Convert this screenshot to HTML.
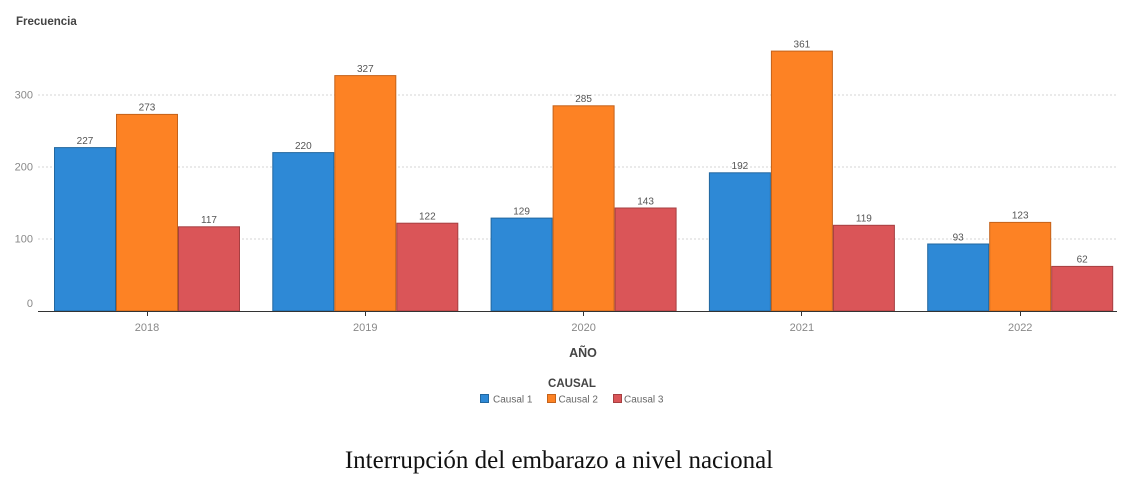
<!DOCTYPE html>
<html>
<head>
<meta charset="utf-8">
<style>
  html, body { margin: 0; padding: 0; background: #ffffff; }
  body { width: 1130px; height: 481px; overflow: hidden; }
  svg { display: block; }
  .sans { font-family: "Liberation Sans", "DejaVu Sans", sans-serif; }
</style>
</head>
<body>
<svg width="1130" height="481" viewBox="0 0 1130 481" xmlns="http://www.w3.org/2000/svg">
  <rect x="0" y="0" width="1130" height="481" fill="#ffffff"/>

  <!-- Y axis title -->
  <text class="sans" x="16" y="25" font-size="11.5" font-weight="bold" fill="#444">Frecuencia</text>

  <!-- Gridlines -->
  <g stroke="#d4d4d4" stroke-width="1" stroke-dasharray="2,2">
    <line x1="38" y1="95" x2="1116" y2="95"/>
    <line x1="38" y1="167" x2="1116" y2="167"/>
    <line x1="38" y1="239" x2="1116" y2="239"/>
  </g>

  <!-- Y labels -->
  <g class="sans" font-size="11" fill="#888" text-anchor="end">
    <text x="33" y="98.5">300</text>
    <text x="33" y="170.5">200</text>
    <text x="33" y="242.5">100</text>
    <text x="33" y="307">0</text>
  </g>

  <!-- Bars -->
  <g stroke-width="1">
    <!-- 2018 -->
    <rect x="54.5" y="147.6" width="61" height="163.4" fill="#2e89d6" stroke="#22679f"/>
    <rect x="116.5" y="114.4" width="61" height="196.6" fill="#fd8224" stroke="#c4621a"/>
    <rect x="178.5" y="226.8" width="61" height="84.2" fill="#da5558" stroke="#a63f41"/>
    <!-- 2019 -->
    <rect x="272.8" y="152.6" width="61" height="158.4" fill="#2e89d6" stroke="#22679f"/>
    <rect x="334.8" y="75.6" width="61" height="235.4" fill="#fd8224" stroke="#c4621a"/>
    <rect x="396.8" y="223.2" width="61" height="87.8" fill="#da5558" stroke="#a63f41"/>
    <!-- 2020 -->
    <rect x="491.1" y="218.1" width="61" height="92.9" fill="#2e89d6" stroke="#22679f"/>
    <rect x="553.1" y="105.8" width="61" height="205.2" fill="#fd8224" stroke="#c4621a"/>
    <rect x="615.1" y="208" width="61" height="103" fill="#da5558" stroke="#a63f41"/>
    <!-- 2021 -->
    <rect x="709.4" y="172.8" width="61" height="138.2" fill="#2e89d6" stroke="#22679f"/>
    <rect x="771.4" y="51.1" width="61" height="259.9" fill="#fd8224" stroke="#c4621a"/>
    <rect x="833.4" y="225.3" width="61" height="85.7" fill="#da5558" stroke="#a63f41"/>
    <!-- 2022 -->
    <rect x="927.7" y="244" width="61" height="67" fill="#2e89d6" stroke="#22679f"/>
    <rect x="989.7" y="222.4" width="61" height="88.6" fill="#fd8224" stroke="#c4621a"/>
    <rect x="1051.7" y="266.4" width="61" height="44.6" fill="#da5558" stroke="#a63f41"/>
  </g>

  <!-- Value labels -->
  <g class="sans" font-size="10" fill="#555" text-anchor="middle">
    <text x="85" y="144">227</text>
    <text x="147" y="110.5">273</text>
    <text x="209" y="223">117</text>

    <text x="303.3" y="149">220</text>
    <text x="365.3" y="72">327</text>
    <text x="427.3" y="219.5">122</text>

    <text x="521.6" y="214.5">129</text>
    <text x="583.6" y="102">285</text>
    <text x="645.6" y="204.5">143</text>

    <text x="739.9" y="169">192</text>
    <text x="801.9" y="47.5">361</text>
    <text x="863.9" y="221.5">119</text>

    <text x="958.2" y="240.5">93</text>
    <text x="1020.2" y="218.5">123</text>
    <text x="1082.2" y="262.5">62</text>
  </g>

  <!-- X axis line -->
  <line x1="38" y1="311.5" x2="1117" y2="311.5" stroke="#333" stroke-width="1"/>
  <g stroke="#333" stroke-width="1">
    <line x1="147.5" y1="311" x2="147.5" y2="316"/>
    <line x1="365.5" y1="311" x2="365.5" y2="316"/>
    <line x1="583.5" y1="311" x2="583.5" y2="316"/>
    <line x1="801.5" y1="311" x2="801.5" y2="316"/>
    <line x1="1020.5" y1="311" x2="1020.5" y2="316"/>
  </g>

  <!-- X labels -->
  <g class="sans" font-size="11" fill="#888" text-anchor="middle">
    <text x="147" y="331">2018</text>
    <text x="365.3" y="331">2019</text>
    <text x="583.6" y="331">2020</text>
    <text x="801.9" y="331">2021</text>
    <text x="1020.2" y="331">2022</text>
  </g>

  <!-- X axis title -->
  <text class="sans" x="583" y="357" font-size="12.5" font-weight="bold" fill="#444" text-anchor="middle">AÑO</text>

  <!-- Legend -->
  <text class="sans" x="572" y="387" font-size="11.5" font-weight="bold" fill="#444" text-anchor="middle">CAUSAL</text>
  <rect x="480.5" y="394.5" width="8" height="8" fill="#2e89d6" stroke="#22679f"/>
  <text class="sans" x="493" y="402.5" font-size="10" fill="#666">Causal 1</text>
  <rect x="547.5" y="394.5" width="8" height="8" fill="#fd8224" stroke="#c4621a"/>
  <text class="sans" x="558.5" y="402.5" font-size="10" fill="#666">Causal 2</text>
  <rect x="613.5" y="394.5" width="8" height="8" fill="#da5558" stroke="#a63f41"/>
  <text class="sans" x="624" y="402.5" font-size="10" fill="#666">Causal 3</text>

  <!-- Caption -->
  <text x="559" y="468" font-family="'Liberation Serif', 'DejaVu Serif', serif" font-size="25" fill="#111" text-anchor="middle">Interrupción del embarazo a nivel nacional</text>
</svg>
</body>
</html>
